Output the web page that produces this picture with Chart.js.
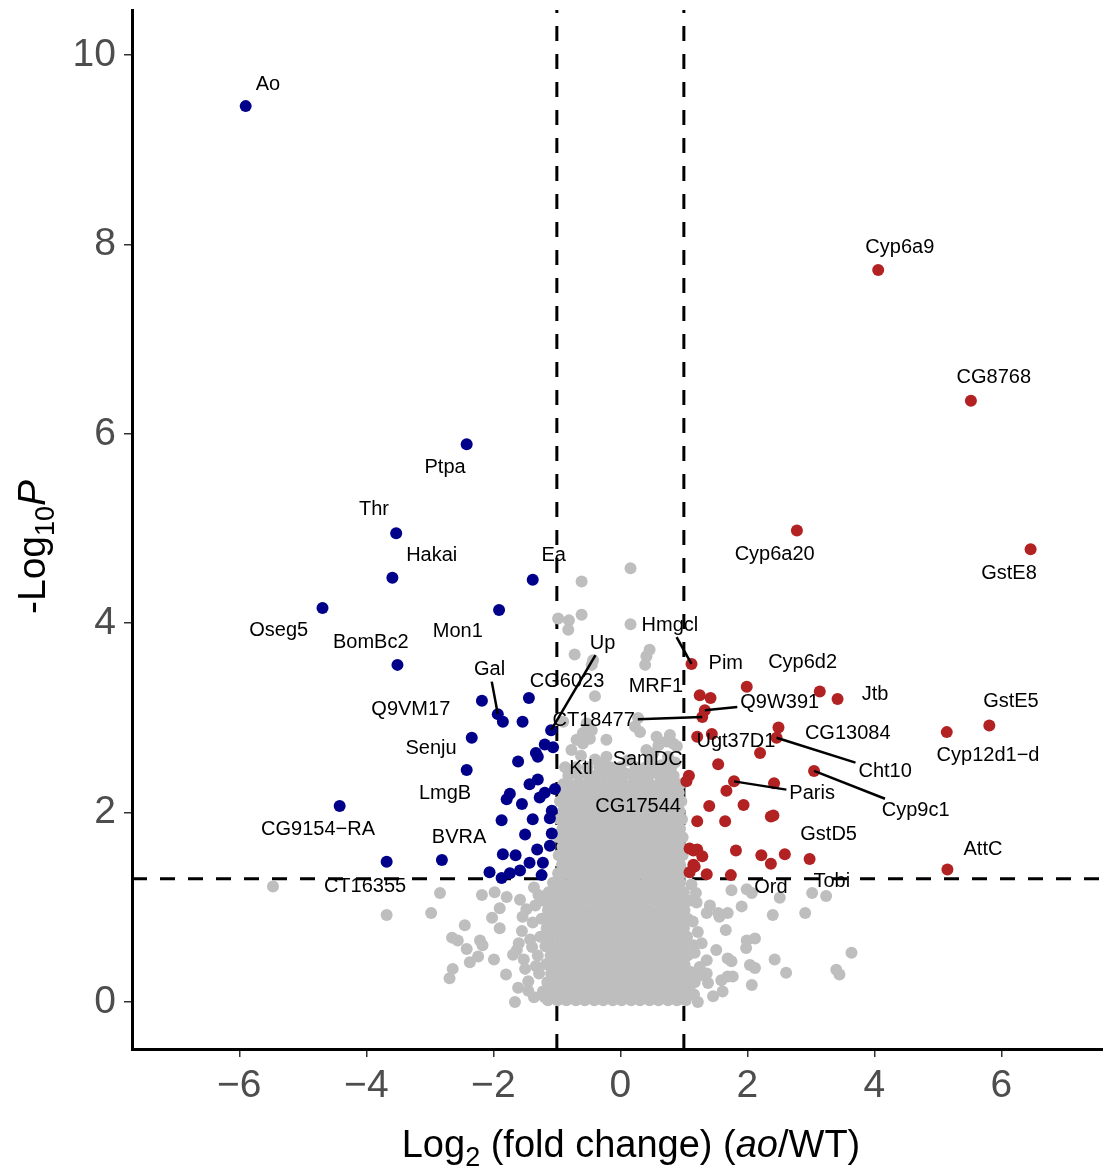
<!DOCTYPE html>
<html>
<head>
<meta charset="utf-8">
<script src="https://cdn.jsdelivr.net/npm/chart.js@4.4.1/dist/chart.umd.min.js"></script>
<style>
  body { margin: 0; background: #fff; }
  #volcano { display: block; }
</style>
</head>
<body>
<canvas id="volcano" width="1103" height="1166"></canvas>
<script>
// axis ticks and thresholds
const xTicks = [-6, -4, -2, 0, 2, 4, 6];
const yTicks = [0, 2, 4, 6, 8, 10];
const fcCutoff = 1;          // |log2 FC|
const pCutoff = 1.301;       // -log10(0.05)

// significant, down in ao (blue)
const downPoints = [
  [-5.90, 9.46], [-2.42, 5.89], [-3.53, 4.95], [-3.59, 4.48], [-4.69, 4.16], [-1.91, 4.14],
  [-1.38, 4.46], [-3.51, 3.56], [-2.18, 3.18], [-1.93, 3.04], [-1.85, 2.96], [-1.54, 2.96],
  [-1.44, 3.21], [-1.09, 2.87], [-1.19, 2.72], [-1.06, 2.69], [-2.34, 2.79], [-1.33, 2.63],
  [-1.30, 2.59], [-1.61, 2.54], [-2.42, 2.45], [-1.43, 2.30], [-1.30, 2.35], [-1.74, 2.20],
  [-1.79, 2.14], [-1.19, 2.21], [-1.27, 2.16], [-1.03, 2.25], [-1.55, 2.09], [-1.08, 2.02],
  [-1.11, 1.94], [-1.87, 1.92], [-1.38, 1.93], [-4.42, 2.07], [-1.50, 1.77], [-1.08, 1.78],
  [-1.85, 1.56], [-1.65, 1.55], [-1.31, 1.61], [-1.11, 1.65], [-3.68, 1.48], [-2.81, 1.50],
  [-2.06, 1.37], [-1.43, 1.47], [-1.22, 1.47], [-1.58, 1.39], [-1.74, 1.36], [-1.87, 1.31],
  [-1.24, 1.34]
];

// significant, up in ao (red)
const upPoints = [
  [4.06, 7.73], [5.52, 6.35], [2.78, 4.98], [6.46, 4.78], [1.12, 3.57], [1.99, 3.33],
  [1.25, 3.24], [1.42, 3.21], [3.14, 3.28], [3.42, 3.20], [1.33, 3.08], [1.29, 3.01],
  [5.81, 2.92], [5.14, 2.85], [2.49, 2.90], [2.46, 2.79], [1.21, 2.80], [1.44, 2.83],
  [2.20, 2.63], [1.54, 2.51], [1.08, 2.39], [1.04, 2.33], [3.05, 2.44], [1.79, 2.33],
  [2.42, 2.31], [1.67, 2.23], [1.94, 2.08], [1.40, 2.07], [2.41, 1.97], [2.37, 1.96],
  [1.21, 1.91], [1.65, 1.91], [1.09, 1.62], [1.15, 1.60], [1.21, 1.61], [1.29, 1.54],
  [1.82, 1.60], [2.22, 1.55], [2.37, 1.46], [2.59, 1.56], [2.98, 1.51], [5.15, 1.40],
  [1.15, 1.45], [1.17, 1.43], [1.36, 1.35], [1.09, 1.37], [1.74, 1.34]
];

// not significant, scattered outliers (gray)
const grayScatter = [
  [-5.47, 1.22], [-2.84, 1.15], [-3.68, 0.92], [-2.98, 0.94], [-2.45, 0.81], [-2.65, 0.68],
  [-2.56, 0.65], [-2.21, 0.65], [-2.17, 0.60], [-2.42, 0.56], [-2.24, 0.48], [-2.37, 0.42],
  [-2.64, 0.35], [-2.69, 0.25], [-1.99, 0.45], [-1.80, 0.29], [-2.18, 1.13], [-1.98, 1.16],
  [-1.79, 1.11], [-1.90, 0.99], [-2.02, 0.89], [-1.90, 0.78], [-1.69, 0.50], [-1.63, 0.55],
  [-1.61, 0.15], [-1.66, 0.00], [-1.19, 0.05], [-1.39, 0.58],
  [1.75, 1.18], [1.99, 1.19], [2.07, 1.15], [2.51, 1.10], [3.02, 1.15], [3.24, 1.12],
  [1.91, 1.01], [1.41, 1.02], [1.54, 0.94], [1.69, 0.94], [2.40, 0.92], [2.91, 0.94],
  [1.66, 0.76], [1.99, 0.65], [2.12, 0.67], [1.98, 0.57], [1.51, 0.55], [1.36, 0.44],
  [1.69, 0.46], [1.75, 0.43], [2.43, 0.45], [2.61, 0.31], [2.04, 0.39], [2.12, 0.36],
  [3.64, 0.52], [3.40, 0.34], [3.45, 0.29], [2.07, 0.18], [1.17, 0.21], [1.38, 0.20],
  [1.46, 0.06], [1.61, 0.11], [1.22, 0.00], [1.19, 1.15], [1.36, 0.94], [1.56, 0.90],
  [1.69, 0.27], [1.77, 0.27], [1.59, 0.23], [1.36, 0.30], [1.17, 0.52], [1.25, 0.37],
  [0.16, 4.58], [-0.61, 4.44], [-0.98, 4.05], [-0.81, 4.03], [-0.82, 3.93], [-0.61, 4.09],
  [0.16, 3.99], [-0.72, 3.67], [-0.43, 3.61], [-0.45, 3.56], [0.46, 3.72], [0.41, 3.65],
  [0.39, 3.56], [-0.40, 3.23], [0.28, 3.00], [0.23, 2.91], [0.31, 2.85], [-0.59, 2.84],
  [-0.48, 2.78], [-0.59, 2.73], [0.78, 2.82], [0.73, 2.75], [0.83, 2.73], [0.60, 2.71],
  [-0.90, 2.96], [-0.69, 2.77], [-0.77, 2.66], [-0.53, 2.94], [-0.45, 2.87], [-0.40, 2.56],
  [-0.30, 2.52], [-0.22, 2.59], [-0.06, 2.45], [0.10, 2.41], [-0.17, 2.36], [0.75, 2.59],
  [0.41, 2.66], [0.52, 2.63], [0.89, 2.70], [-0.22, 2.77], [-0.87, 2.48], [0.57, 2.80],
  [0.46, 2.56], [0.65, 2.50], [0.86, 2.53], [0.31, 2.45], [-0.62, 2.60], [0.12, 2.55],
  [-1.36, 0.05], [-1.45, 0.22], [-1.33, 0.38], [-1.50, 0.35], [-1.42, 0.66], [-1.55, 0.75],
  [-1.38, 0.84], [-1.48, 0.98], [-1.34, 1.02], [-1.58, 1.08], [-1.36, 1.21], [-1.29, 1.13],
  [-1.52, 0.45], [-1.60, 0.62], [-1.45, 0.12], [-1.54, 0.90],
  [1.16, 0.08], [1.25, 0.28], [1.15, 0.60], [1.22, 0.74], [1.14, 0.85], [1.20, 1.05],
  [1.12, 1.24], [1.28, 0.62], [1.10, 0.32]
];

// not significant, dense core read row by row: [-log10P, [log2FC ...]]
const grayRows = [
  [0.02, [-1.14, -0.99, -0.85, -0.70, -0.56, -0.41, -0.27, -0.12, 0.02, 0.17, 0.31, 0.46, 0.60, 0.75, 0.89, 1.03]],
  [0.11, [-1.22, -1.07, -0.92, -0.78, -0.63, -0.49, -0.34, -0.19, -0.05, 0.10, 0.24, 0.39, 0.53, 0.68, 0.82, 0.97, 1.10]],
  [0.21, [-1.15, -1.01, -0.86, -0.71, -0.57, -0.42, -0.28, -0.13, 0.01, 0.16, 0.30, 0.45, 0.59, 0.74, 0.88, 1.02]],
  [0.30, [-1.28, -1.09, -0.94, -0.79, -0.64, -0.50, -0.35, -0.21, -0.06, 0.08, 0.23, 0.37, 0.52, 0.66, 0.81, 0.95, 1.08]],
  [0.40, [-1.17, -1.02, -0.87, -0.72, -0.58, -0.43, -0.29, -0.14, 0.00, 0.15, 0.29, 0.44, 0.58, 0.73, 0.87, 1.01]],
  [0.49, [-1.30, -1.10, -0.95, -0.80, -0.66, -0.51, -0.37, -0.22, -0.07, 0.07, 0.22, 0.36, 0.51, 0.65, 0.80, 0.94, 1.06]],
  [0.59, [-1.18, -1.03, -0.88, -0.74, -0.59, -0.45, -0.30, -0.15, -0.01, 0.14, 0.28, 0.43, 0.57, 0.72, 0.86, 1.00]],
  [0.69, [-1.26, -1.11, -0.96, -0.81, -0.67, -0.52, -0.38, -0.23, -0.08, 0.06, 0.21, 0.35, 0.50, 0.64, 0.79, 0.93, 1.05]],
  [0.78, [-1.16, -1.02, -0.87, -0.73, -0.58, -0.44, -0.29, -0.14, 0.00, 0.15, 0.29, 0.44, 0.58, 0.73, 0.87, 1.00]],
  [0.88, [-1.24, -1.09, -0.95, -0.80, -0.66, -0.51, -0.36, -0.22, -0.07, 0.07, 0.22, 0.36, 0.51, 0.65, 0.80, 0.94, 1.06]],
  [0.97, [-1.14, -1.00, -0.86, -0.71, -0.57, -0.42, -0.27, -0.13, 0.02, 0.16, 0.31, 0.45, 0.60, 0.74, 0.88, 1.01]],
  [1.07, [-1.21, -1.07, -0.93, -0.78, -0.64, -0.49, -0.34, -0.20, -0.05, 0.09, 0.24, 0.38, 0.53, 0.67, 0.81, 0.95, 1.08]],
  [1.16, [-1.13, -0.99, -0.85, -0.70, -0.56, -0.41, -0.27, -0.12, 0.02, 0.17, 0.31, 0.46, 0.60, 0.74, 0.88, 1.00]],
  [1.26, [-1.06, -0.92, -0.77, -0.63, -0.48, -0.34, -0.19, -0.05, 0.10, 0.24, 0.39, 0.53, 0.67, 0.81, 0.94]],
  [1.36, [-0.98, -0.84, -0.70, -0.55, -0.41, -0.26, -0.12, 0.03, 0.17, 0.32, 0.46, 0.60, 0.74, 0.87, 0.97]],
  [1.45, [-0.92, -0.77, -0.63, -0.48, -0.34, -0.19, -0.05, 0.10, 0.24, 0.39, 0.53, 0.67, 0.81, 0.94]],
  [1.55, [-0.97, -0.84, -0.70, -0.55, -0.41, -0.26, -0.12, 0.03, 0.17, 0.32, 0.46, 0.60, 0.74, 0.87, 0.98]],
  [1.64, [-0.91, -0.77, -0.62, -0.48, -0.33, -0.19, -0.04, 0.10, 0.25, 0.39, 0.53, 0.67, 0.81, 0.94]],
  [1.74, [-0.97, -0.84, -0.69, -0.55, -0.40, -0.26, -0.11, 0.03, 0.18, 0.32, 0.46, 0.60, 0.74, 0.87, 0.98]],
  [1.83, [-0.91, -0.76, -0.62, -0.47, -0.33, -0.18, -0.04, 0.11, 0.25, 0.39, 0.53, 0.67, 0.81, 0.94]],
  [1.93, [-0.96, -0.83, -0.69, -0.54, -0.40, -0.25, -0.11, 0.04, 0.18, 0.32, 0.46, 0.60, 0.74, 0.87, 0.97]],
  [2.02, [-0.90, -0.76, -0.61, -0.47, -0.32, -0.18, -0.03, 0.11, 0.25, 0.39, 0.53, 0.67, 0.81, 0.93]],
  [2.12, [-0.95, -0.82, -0.68, -0.54, -0.39, -0.25, -0.10, 0.04, 0.18, 0.32, 0.46, 0.60, 0.74, 0.86, 0.96]],
  [2.21, [-0.88, -0.75, -0.61, -0.46, -0.32, -0.17, -0.03, 0.11, 0.25, 0.39, 0.53, 0.67, 0.80, 0.92]],
  [2.30, [-0.90, -0.80, -0.67, -0.53, -0.38, -0.24, -0.10, 0.04, 0.18, 0.32, 0.46, 0.60, 0.73, 0.85, 0.94]],
  [2.39, [-0.82, -0.66, -0.50, -0.40, -0.25, -0.08, 0.03, 0.20, 0.31, 0.45, 0.62, 0.72, 0.84]],
  [2.48, [-0.70, -0.52, -0.33, -0.16, 0.00, 0.24, 0.40, 0.55, 0.80]]
];

// gene labels: [name, pointX, pointY, labelX, labelY, connector]
const geneLabels = [
  ['Ao', -5.90, 9.46, -5.55, 9.69, false],
  ['Cyp6a9', 4.06, 7.73, 4.40, 7.97, false],
  ['CG8768', 5.52, 6.35, 5.88, 6.59, false],
  ['Ptpa', -2.42, 5.89, -2.76, 5.64, false],
  ['Thr', -3.53, 4.95, -3.88, 5.20, false],
  ['Hakai', -3.59, 4.48, -2.97, 4.71, false],
  ['Ea', -1.38, 4.46, -1.05, 4.71, false],
  ['Cyp6a20', 2.78, 4.98, 2.43, 4.73, false],
  ['GstE8', 6.46, 4.78, 6.12, 4.53, false],
  ['Oseg5', -4.69, 4.16, -5.38, 3.92, false],
  ['BomBc2', -3.51, 3.56, -3.93, 3.80, false],
  ['Mon1', -1.91, 4.14, -2.56, 3.91, false],
  ['Hmgcl', 1.12, 3.57, 0.78, 3.98, true],
  ['Up', -1.09, 2.87, -0.28, 3.79, true],
  ['Pim', 1.12, 3.57, 1.66, 3.57, false],
  ['Cyp6d2', 3.14, 3.28, 2.87, 3.59, false],
  ['Gal', -1.93, 3.04, -2.06, 3.51, true],
  ['CG6023', -1.44, 3.21, -0.84, 3.38, false],
  ['MRF1', 1.25, 3.24, 0.56, 3.33, false],
  ['Jtb', 3.42, 3.20, 4.01, 3.25, false],
  ['GstE5', 5.81, 2.92, 6.15, 3.17, false],
  ['Q9W391', 1.33, 3.08, 2.51, 3.16, true],
  ['Q9VM17', -2.18, 3.18, -3.30, 3.09, false],
  ['CT18477', 1.29, 3.01, -0.42, 2.97, true],
  ['CG13084', 2.49, 2.90, 3.58, 2.84, false],
  ['Ugt37D1', 1.44, 2.83, 1.82, 2.75, false],
  ['Senju', -2.34, 2.79, -2.98, 2.68, false],
  ['Cyp12d1\u2212d', 5.14, 2.85, 5.79, 2.60, false],
  ['SamDC', 1.04, 2.33, 0.43, 2.56, false],
  ['Ktl', -1.06, 2.69, -0.62, 2.47, false],
  ['Cht10', 2.46, 2.79, 4.17, 2.43, true],
  ['LmgB', -2.42, 2.45, -2.76, 2.20, false],
  ['Paris', 1.79, 2.33, 3.02, 2.20, true],
  ['CG17544', 1.04, 1.95, 0.28, 2.06, false],
  ['Cyp9c1', 3.05, 2.44, 4.65, 2.02, true],
  ['GstD5', 2.98, 1.51, 3.28, 1.77, false],
  ['CG9154\u2212RA', -4.42, 2.07, -4.76, 1.82, false],
  ['BVRA', -2.81, 1.50, -2.54, 1.74, false],
  ['AttC', 5.15, 1.40, 5.71, 1.61, false],
  ['CT16355', -3.68, 1.48, -4.02, 1.22, false],
  ['Ord', 2.07, 1.15, 2.37, 1.21, false],
  ['Tobi', 3.02, 1.15, 3.33, 1.27, false]
];

const toXY = p => ({ x: p[0], y: p[1] });
const grayData = grayRows.flatMap(r => r[1].map(x => ({ x, y: r[0] }))).concat(grayScatter.map(toXY));

const FONT = '"Liberation Sans", Arial, Helvetica, sans-serif';
const minus = v => (v < 0 ? '\u2212' + Math.abs(v) : String(v));

const overlay = {
  id: 'overlay',
  beforeDatasetsDraw(chart) {
    const { ctx, chartArea: a, scales: { x, y } } = chart;
    ctx.save();
    ctx.strokeStyle = '#000';
    ctx.lineWidth = 3;
    ctx.setLineDash([15, 13]);
    [-fcCutoff, fcCutoff].forEach(v => {
      const px = x.getPixelForValue(v);
      ctx.beginPath(); ctx.moveTo(px, a.bottom); ctx.lineTo(px, a.top); ctx.stroke();
    });
    const py = y.getPixelForValue(pCutoff);
    ctx.beginPath(); ctx.moveTo(a.left, py); ctx.lineTo(a.right, py); ctx.stroke();
    ctx.restore();
  },
  afterDatasetsDraw(chart) {
    const { ctx, scales: { x, y } } = chart;
    ctx.save();
    ctx.font = '20px ' + FONT;
    ctx.textAlign = 'center';
    ctx.textBaseline = 'middle';
    geneLabels.forEach(([name, px, py, lx, ly, line]) => {
      const tx = x.getPixelForValue(lx), ty = y.getPixelForValue(ly);
      if (line) {
        const ax = x.getPixelForValue(px), ay = y.getPixelForValue(py);
        const hw = ctx.measureText(name).width / 2 + 3, hh = 12;
        const dx = ax - tx, dy = ay - ty;
        const t = Math.min(hw / Math.abs(dx || 1e-6), hh / Math.abs(dy || 1e-6), 1);
        ctx.strokeStyle = '#000';
        ctx.lineWidth = 2.5;
        ctx.beginPath(); ctx.moveTo(tx + dx * t, ty + dy * t); ctx.lineTo(ax, ay); ctx.stroke();
      }
      ctx.fillStyle = '#000';
      ctx.fillText(name, tx, ty);
    });
    ctx.restore();
  },
  afterDraw(chart) {
    const { ctx } = chart;
    const drawParts = (parts) => {
      let w = 0;
      parts.forEach(p => { ctx.font = p.f; p.w = ctx.measureText(p.t).width; w += p.w; });
      let cx = -w / 2;
      parts.forEach(p => { ctx.font = p.f; ctx.fillText(p.t, cx, p.dy || 0); cx += p.w; });
    };
    const big = '38px ' + FONT, ital = 'italic 38px ' + FONT, sub = '27px ' + FONT;
    ctx.save();
    ctx.fillStyle = '#000';
    ctx.textAlign = 'left';
    ctx.textBaseline = 'alphabetic';
    ctx.translate(631, 1157);
    drawParts([
      { t: 'Log', f: big }, { t: '2', f: sub, dy: 9 }, { t: ' (fold change) (', f: big },
      { t: 'ao', f: ital }, { t: '/WT)', f: big }
    ]);
    ctx.restore();
    ctx.save();
    ctx.fillStyle = '#000';
    ctx.textAlign = 'left';
    ctx.textBaseline = 'alphabetic';
    ctx.translate(45, 547);
    ctx.rotate(-Math.PI / 2);
    drawParts([{ t: '-Log', f: '39px ' + FONT }, { t: '10', f: sub, dy: 9 }, { t: 'P', f: 'italic 39px ' + FONT }]);
    ctx.restore();
  }
};

const tickFont = { family: FONT, size: 39 };

new Chart(document.getElementById('volcano'), {
  type: 'scatter',
  data: {
    datasets: [
      { label: 'NS', data: grayData, backgroundColor: '#bebebe', pointRadius: 6, borderWidth: 0, order: 3 },
      { label: 'Down', data: downPoints.map(toXY), backgroundColor: '#00008b', pointRadius: 6, borderWidth: 0, order: 1 },
      { label: 'Up', data: upPoints.map(toXY), backgroundColor: '#b22222', pointRadius: 6, borderWidth: 0, order: 1 }
    ]
  },
  options: {
    responsive: false,
    animation: false,
    devicePixelRatio: 1,
    layout: { autoPadding: false, padding: { top: 10, right: 0, left: 0, bottom: 0 } },
    plugins: { legend: { display: false }, tooltip: { enabled: false } },
    scales: {
      x: {
        type: 'linear', min: -7.69, max: 7.6,
        afterBuildTicks: s => { s.ticks = xTicks.map(v => ({ value: v })); },
        afterFit: s => { s.height = 117; s.paddingLeft = 0; s.paddingRight = 0; },
        border: { display: true, color: '#000', width: 3 },
        grid: { drawOnChartArea: false, drawTicks: true, tickLength: 8, color: '#333', lineWidth: 1.5 },
        ticks: { font: tickFont, color: '#4d4d4d', padding: 6, callback: v => minus(v), maxRotation: 0 }
      },
      y: {
        type: 'linear', min: -0.496, max: 10.475,
        afterBuildTicks: s => { s.ticks = yTicks.map(v => ({ value: v })); },
        afterFit: s => { s.width = 132; s.paddingTop = 0; s.paddingBottom = 0; },
        border: { display: true, color: '#000', width: 3 },
        grid: { drawOnChartArea: false, drawTicks: true, tickLength: 8, color: '#333', lineWidth: 1.5 },
        ticks: { font: tickFont, color: '#4d4d4d', padding: 8, callback: v => minus(v) }
      }
    }
  },
  plugins: [overlay]
});
</script>
</body>
</html>
